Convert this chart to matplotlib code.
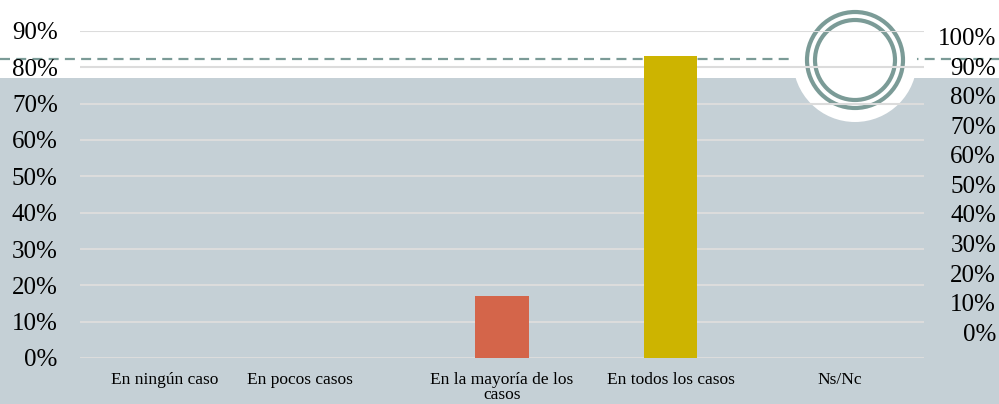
import matplotlib
matplotlib.use("Agg")
import matplotlib.pyplot as plt
from matplotlib.patches import Rectangle, Ellipse
import matplotlib.transforms as mtransforms

categories = ["En ningún caso", "En pocos casos", "En la mayoría de los\ncasos",
              "En todos los casos", "Ns/Nc"]
values = [0.0, 0.0, 0.17, 0.83, 0.0]
bar_colors = ["#d4654a", "#d4654a", "#d4654a", "#cdb400", "#7a9a96"]
left_ticks = [0, 0.1, 0.2, 0.3, 0.4, 0.5, 0.6, 0.7, 0.8, 0.9]
left_labels = ["0%", "10%", "20%", "30%", "40%", "50%", "60%", "70%", "80%", "90%"]
right_ticks = [0, 0.1, 0.2, 0.3, 0.4, 0.5, 0.6, 0.7, 0.8, 0.9, 1.0]
right_labels = ["0%", "10%", "20%", "30%", "40%", "50%", "60%", "70%", "80%", "90%", "100%"]
ref_line = 0.824

W, H = 999, 404
fig = plt.figure(figsize=(W / 100, H / 100), dpi=100)
fig.patch.set_facecolor("white")
ax = fig.add_axes([80 / W, (H - 358) / H, (924 - 80) / W, (358 - 31) / H])
ax.set_facecolor("none")
for s in ax.spines.values():
    s.set_visible(False)

GREY = "#c5d0d6"
RING = "#7b9b97"
ff = "Liberation Serif"

# background grey band
ax.add_patch(Rectangle((0, 0), 1, (H - 78) / H, transform=fig.transFigure,
                       facecolor=GREY, edgecolor="none", zorder=-2, clip_on=False))

# dashed reference line
x0 = -80 / 844
x1 = (W - 80) / 844
ax.plot([x0, x1], [ref_line, ref_line], transform=ax.get_yaxis_transform(),
        color=RING, lw=1.6, ls=(0, (4.5, 2.8)), clip_on=False, zorder=-1)

# white circle and rings
cx, cy = 855 / W, (H - 60) / H
def circ(r, **kw):
    return Ellipse((cx, cy), 2 * r / W, 2 * r / H, transform=fig.transFigure,
                   clip_on=False, **kw)
ax.add_patch(circ(62, facecolor="white", edgecolor="none", zorder=0.1))
ax.add_patch(circ(48, facecolor="none", edgecolor=RING, lw=3.0, zorder=0.3))
ax.add_patch(circ(40, facecolor="none", edgecolor=RING, lw=3.0, zorder=0.3))

x = list(range(len(categories)))
ax.bar(x, values, width=0.315, color=bar_colors, zorder=1)
ax.set_xlim(-0.5, len(categories) - 0.5)
ax.set_ylim(0, 0.9)

ax.set_yticks(left_ticks)
ax.set_yticklabels(left_labels, fontsize=18, family=ff)
ax.tick_params(axis="y", length=0, pad=16)
ax.yaxis.grid(True, color="#dcdcdc", lw=1.5)
ax.set_axisbelow(True)

ax.set_xticks(x)
ax.set_xticklabels(categories, fontsize=12.5, family=ff, linespacing=0.95)
ax.tick_params(axis="x", length=0, pad=10)
lab = ax.get_xticklabels()[1]
lab.set_transform(lab.get_transform() + mtransforms.ScaledTranslation(-33 / 100, 0, fig.dpi_scale_trans))

ax2 = ax.twinx()
ax2.set_facecolor("none")
for s in ax2.spines.values():
    s.set_visible(False)
ax2.set_ylim(-0.088, 1.02)
ax2.set_yticks(right_ticks)
ax2.set_yticklabels(right_labels, fontsize=18, family=ff)
ax2.tick_params(axis="y", length=0, pad=52)
for t in ax2.get_yticklabels():
    t.set_horizontalalignment("right")

fig.savefig("out.png", dpi=100)
